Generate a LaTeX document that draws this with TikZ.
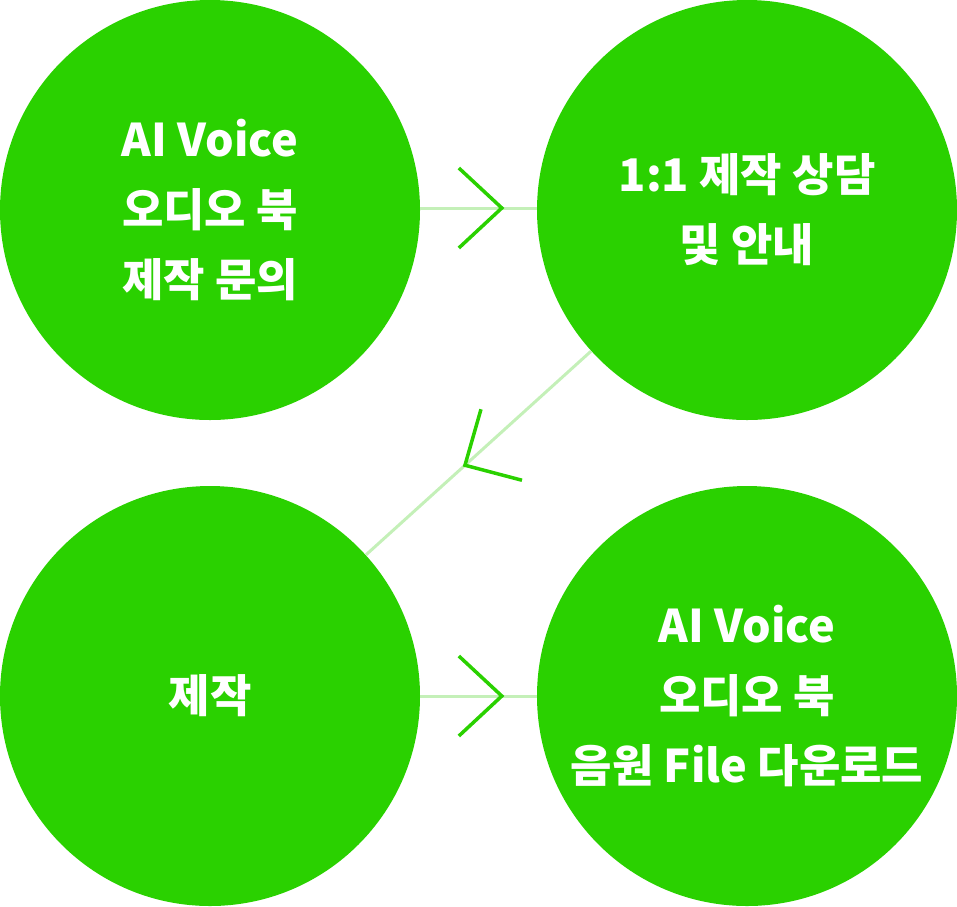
\documentclass[tikz,border=0pt]{standalone}
\usepackage{fontspec}
\setmainfont{Noto Sans CJK KR}
\usepackage{tikz}
\usetikzlibrary{positioning, calc}
\definecolor{StageGreen}{HTML}{2AD100}
\definecolor{LinkGreen}{HTML}{C4F0B8}

\tikzset{
    stage/.style={circle, fill=StageGreen, minimum size=420pt, inner sep=0pt,
        text=white, align=center, font=\bfseries\fontsize{45}{70}\selectfont},
    link/.style={LinkGreen, line width=3pt},
    chev/.style={StageGreen, line width=3.5pt}
}

\begin{document}
\begin{tikzpicture}[x=1pt, y=-1pt]
    \useasboundingbox (0,0) rectangle (957,906);

    % Stages
    \node[stage] (ask) at (210,210) {AI Voice\\오디오 북\\제작 문의};
    \node[stage] (consult) at (747,210) {1:1 제작 상담\\및 안내};
    \node[stage] (make) at (210,696) {제작};
    \node[stage] (down) at (747,696) {AI Voice\\오디오 북\\음원 File 다운로드};

    % Links
    \draw[link] (ask.east |- 0,208) -- coordinate[pos=0.7] (m1) (consult.west |- 0,208);
    \draw[link] (consult) -- coordinate[pos=0.56] (m2) (make);
    \draw[link] (make.east) -- coordinate[pos=0.7] (m3) (down.west);

    % Chevrons
    \draw[chev] ($(m1)+(-43,-40)$) -- (m1) -- ($(m1)+(-43,40)$);
    \draw[chev] ($(m2)+(16,-56)$) -- (m2) -- ($(m2)+(57,15)$);
    \draw[chev] ($(m3)+(-43,-40)$) -- (m3) -- ($(m3)+(-43,40)$);
\end{tikzpicture}
\end{document}
